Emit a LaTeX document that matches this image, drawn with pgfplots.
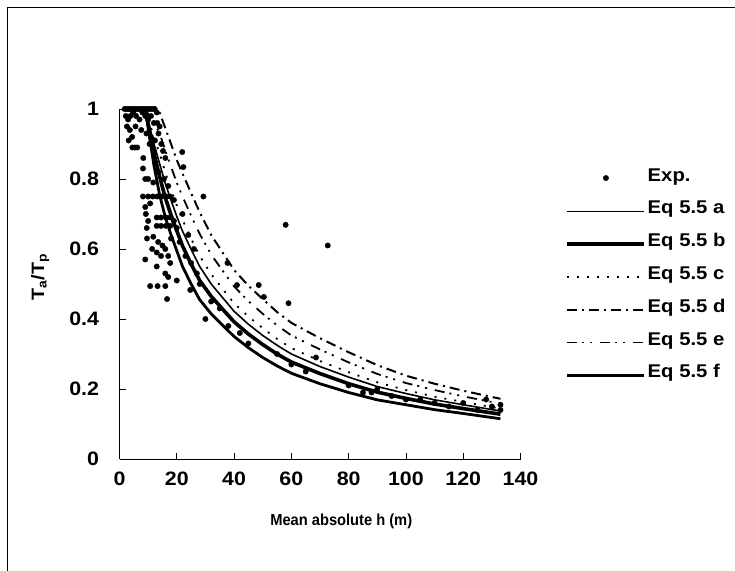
\documentclass[border=0pt]{standalone}
\usepackage{fontspec}
\setmainfont{Liberation Sans}[FakeStretch=1.1]
\newfontfamily\xlabfont{Liberation Sans}[FakeStretch=0.92]
\usepackage{pgfplots}
\pgfplotsset{compat=1.18}
\usepackage{pgfplotstable}
\pgfplotsset{mylegline/.style={legend image code/.code={\draw[##1] (0bp,-2.5bp) -- (77bp,-2.5bp);}}}

\pgfplotstableread{
h a b c d e f
9 1 1 1 1 1 1
10 0.966 0.957 0.973 1 0.986 0.945
12 0.901 0.875 0.92 1 0.96 0.84
14 0.844 0.807 0.873 0.99 0.931 0.755
16 0.787 0.746 0.818 0.945 0.881 0.69
18 0.739 0.697 0.77 0.90 0.835 0.64
20 0.693 0.652 0.725 0.854 0.789 0.595
22 0.651 0.609 0.683 0.816 0.75 0.55
25 0.599 0.557 0.63 0.76 0.695 0.50
28 0.55 0.51 0.58 0.705 0.643 0.455
32 0.5 0.465 0.528 0.64 0.584 0.415
36 0.461 0.428 0.486 0.59 0.538 0.382
40 0.422 0.392 0.445 0.54 0.493 0.35
45 0.385 0.357 0.407 0.495 0.451 0.318
50 0.353 0.327 0.374 0.457 0.415 0.29
55 0.325 0.3 0.343 0.42 0.382 0.266
60 0.3 0.277 0.317 0.389 0.353 0.245
70 0.264 0.244 0.28 0.345 0.313 0.215
80 0.234 0.215 0.248 0.305 0.276 0.19
90 0.207 0.191 0.219 0.268 0.243 0.169
100 0.187 0.173 0.197 0.238 0.217 0.155
110 0.169 0.157 0.178 0.215 0.197 0.141
120 0.155 0.144 0.163 0.195 0.179 0.13
133 0.137 0.128 0.144 0.172 0.158 0.115
}\curves

\pgfplotstableread{
h v
1.8 1.0
2.5 1.0
3.2 1.0
3.9 1.0
4.6 1.0
5.3 1.0
6.0 1.0
6.7 1.0
7.4 1.0
8.1 1.0
8.8 1.0
9.5 1.0
10.2 1.0
10.9 1.0
11.6 1.0
12.3 1.0
13.0 0.99
2.2 0.98
3.0 0.97
3.8 0.98
4.8 0.99
5.8 0.98
7.0 0.97
8.0 0.99
9.0 0.98
10.0 0.97
11.0 0.98
12.0 0.96
13.2 0.96
14.0 0.95
2.6 0.95
3.6 0.94
4.4 0.92
3.2 0.91
5.6 0.95
7.6 0.94
9.4 0.93
11.0 0.92
12.4 0.91
13.6 0.93
14.6 0.90
15.2 0.88
16.0 0.86
10.5 0.90
12.0 0.88
4.5 0.89
5.4 0.89
6.2 0.89
8.3 0.86
8.2 0.83
21.9 0.877
22.3 0.834
9.0 0.80
10.0 0.80
11.8 0.79
13.5 0.82
15.5 0.80
17.0 0.78
8.2 0.75
10.0 0.75
11.6 0.75
13.2 0.75
14.8 0.75
16.4 0.75
17.7 0.75
29.3 0.75
10.7 0.73
9.0 0.72
9.2 0.70
10.0 0.68
9.5 0.66
13.0 0.69
14.5 0.69
16.2 0.69
17.7 0.69
13.0 0.666
14.5 0.666
16.2 0.666
17.7 0.666
19.0 0.68
20.0 0.66
9.6 0.63
11.8 0.635
13.5 0.62
15.0 0.61
18.0 0.63
11.4 0.60
13.0 0.59
14.5 0.58
16.0 0.60
17.0 0.58
9.0 0.57
13.0 0.55
17.7 0.56
16.0 0.53
17.0 0.52
20.0 0.51
10.7 0.494
13.3 0.494
16.0 0.494
16.6 0.457
24.7 0.483
30.0 0.40
21.0 0.62
23.0 0.58
25.0 0.56
27.0 0.53
22.0 0.70
24.0 0.64
26.0 0.60
19.0 0.74
28.0 0.50
32.0 0.45
35.0 0.43
37.7 0.56
41.0 0.497
48.6 0.497
50.4 0.463
58.0 0.669
59.0 0.445
72.7 0.61
68.6 0.29
38.0 0.38
42.0 0.36
45.0 0.33
55.0 0.30
60.0 0.27
65.0 0.25
80.0 0.21
85.0 0.19
88.0 0.19
90.0 0.20
95.0 0.18
100.0 0.17
105.0 0.17
110.0 0.16
115.0 0.15
120.0 0.16
125.0 0.14
128.0 0.17
130.0 0.15
133.0 0.14
133.0 0.155
}\expdata

\begin{document}
\begin{tikzpicture}[x=1bp,y=1bp,font=\bfseries]
\useasboundingbox (0,0) rectangle (735,571);
\draw[line width=1bp] (7,0) -- (7,563) -- (735,563);
\begin{axis}[
  at={(119.5bp,112bp)}, anchor=south west,
  width=401bp, height=350bp, scale only axis,
  xmin=0, xmax=140, ymin=0, ymax=1,
  axis x line*=bottom, axis y line*=left,
  axis line style={line width=0.8bp},
  tick align=inside, major tick length=6bp,
  tick style={line width=0.8bp, black},
  xtick={0,20,...,140}, ytick={0,0.2,0.4,0.6,0.8,1},
  /pgf/number format/assume math mode=true,
  tick label style={font=\fontsize{19.5}{22}\bfseries\selectfont},
  xticklabel style={yshift=-9bp},
  yticklabel style={xshift=-17bp},
  xlabel={Mean absolute h (m)},
  ylabel={T\textsubscript{a}/T\textsubscript{p}},
  xlabel style={font=\xlabfont\fontsize{16}{19}\bfseries\selectfont, at={(axis description cs:0.553,-0.177)}, anchor=center},
  ylabel style={font=\fontsize{18}{22}\bfseries\selectfont, at={(axis description cs:-0.198,0.52)}, anchor=center},
  clip=false,
  legend style={at={(axis description cs:1.112,0.839)}, anchor=north west,
    draw=none, fill=none, font=\fontsize{18.5}{22}\bfseries\selectfont,
    row sep=11.8bp, inner sep=0pt, nodes={inner sep=1.5bp, text height=14bp, text depth=4bp}},
  legend cell align=left,
]
\addplot[only marks, mark=*, mark size=2.7bp, black,
  legend image code/.code={\fill[black] (38.5bp,-2bp) circle (2.7bp);}]
  table[x=h,y=v] {\expdata};
\addlegendentry{Exp.}
\addplot[black, line width=1.6bp, mylegline]
  table[x=h,y=a] {\curves};
\addlegendentry{Eq 5.5 a}
\addplot[black, line width=3.6bp, mylegline]
  table[x=h,y=b] {\curves};
\addlegendentry{Eq 5.5 b}
\addplot[black, line width=1.8bp, dash pattern=on 2bp off 8bp, mylegline]
  table[x=h,y=c] {\curves};
\addlegendentry{Eq 5.5 c}
\addplot[black, line width=2bp, dash pattern=on 10bp off 5bp on 2bp off 5bp, mylegline]
  table[x=h,y=d] {\curves};
\addlegendentry{Eq 5.5 d}
\addplot[black, line width=1.8bp, dash pattern=on 10bp off 5bp on 2bp off 6bp on 2bp off 8bp, mylegline]
  table[x=h,y=e] {\curves};
\addlegendentry{Eq 5.5 e}
\addplot[black, line width=2.8bp, mylegline]
  table[x=h,y=f] {\curves};
\addlegendentry{Eq 5.5 f}
\end{axis}
\end{tikzpicture}
\end{document}
